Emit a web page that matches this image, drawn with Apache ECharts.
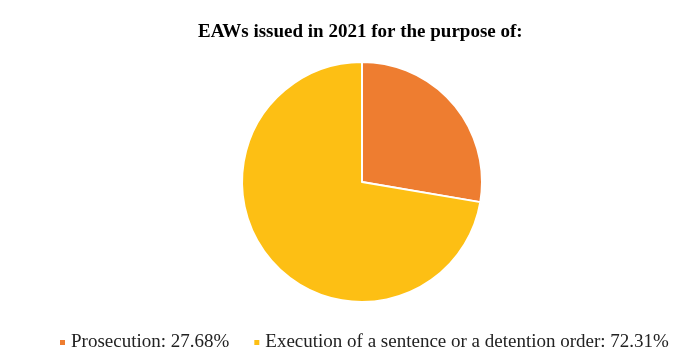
<!DOCTYPE html>
<html>
<head>
<meta charset="utf-8">
<script src="https://cdn.jsdelivr.net/npm/echarts@6/dist/echarts.min.js"></script>
<style>
  html, body { margin: 0; padding: 0; background: #fff; }
  #chart { width: 686px; height: 356px; }
</style>
</head>
<body>
<div id="chart"></div>
<script>
// EAW purposes, share of warrants issued in 2021 (%)
const categories = ['Prosecution', 'Execution of a sentence or a detention order'];
const shares = [27.68, 72.31];
const colors = ['#EE7D30', '#FDBF14'];

const chart = echarts.init(document.getElementById('chart'), null, { renderer: 'canvas' });

chart.setOption({
  animation: false,
  backgroundColor: '#ffffff',
  title: {
    text: 'EAWs issued in 2021 for the purpose of:',
    left: 193,
    top: 18,
    textStyle: {
      fontFamily: '"Liberation Serif", "Times New Roman", serif',
      fontWeight: 'bold',
      fontSize: 19,
      color: '#000'
    }
  },
  legend: {
    top: 328,
    left: 53,
    icon: 'rect',
    itemWidth: 7,
    itemHeight: 7,
    itemGap: 23,
    data: categories,
    formatter: function (name) {
      const i = categories.indexOf(name);
      return name + ': ' + shares[i].toFixed(2) + '%';
    },
    textStyle: {
      fontFamily: '"Liberation Serif", "Times New Roman", serif',
      fontSize: 19,
      color: '#222'
    }
  },
  series: [{
    type: 'pie',
    center: [362, 182],
    radius: 120,
    startAngle: 90,
    clockwise: true,
    label: { show: false },
    labelLine: { show: false },
    emphasis: { disabled: true },
    itemStyle: { borderColor: '#ffffff', borderWidth: 2 },
    data: categories.map((c, i) => ({
      name: c,
      value: shares[i],
      itemStyle: { color: colors[i] }
    }))
  }]
});
</script>
</body>
</html>
